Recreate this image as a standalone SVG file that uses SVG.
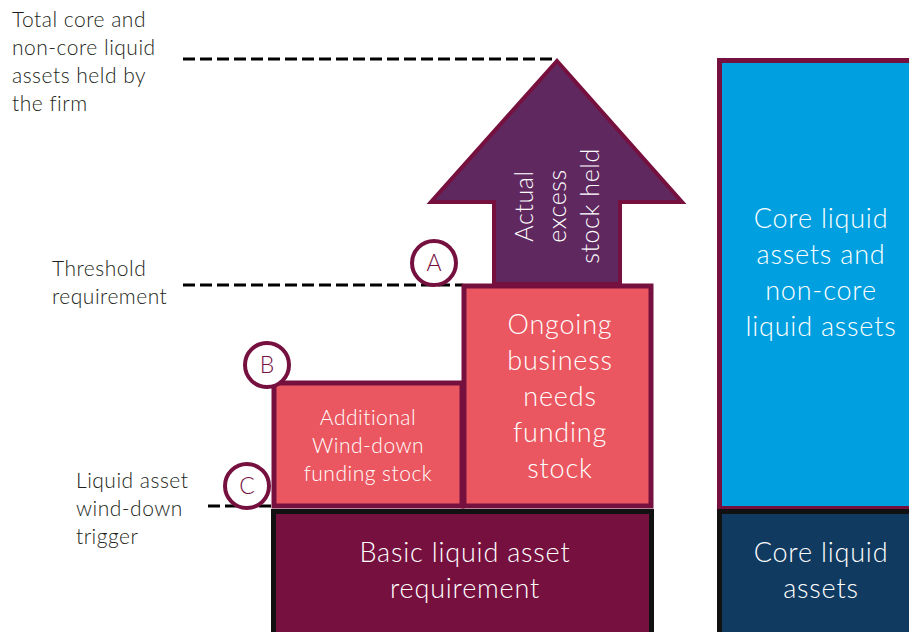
<svg xmlns="http://www.w3.org/2000/svg" width="909" height="632" viewBox="0 0 909 632">
<style>
.lbl{font-family:Lato,"Liberation Sans",sans-serif;font-weight:300;fill:#231F20;font-size:21px;letter-spacing:0.5px}
.wt{font-family:Lato,"Liberation Sans",sans-serif;font-weight:300;fill:#FFFFFF;text-anchor:middle}
.big{font-size:27px;letter-spacing:0.8px}
.mid{font-size:21px;letter-spacing:0.5px}
.dash{stroke:#000;stroke-width:3;stroke-dasharray:12 5;fill:none}
.circ{fill:#FFFFFF;stroke:#76103F;stroke-width:4}
.letter{font-family:Lato,"Liberation Sans",sans-serif;font-weight:300;fill:#76103F;font-size:23px;text-anchor:middle}
</style>
<rect width="909" height="632" fill="#FFFFFF"/>
<g id="connectors">
<line class="dash" x1="183" y1="59" x2="556" y2="59"/>
<line class="dash" x1="183" y1="285" x2="463" y2="285"/>
<line class="dash" x1="208" y1="506" x2="272" y2="506"/>
</g>
<g id="labels">
<text class="lbl" x="12"><tspan x="12" y="27">Total core and</tspan><tspan x="12" y="55">non-core liquid</tspan><tspan x="12" y="83">assets held by</tspan><tspan x="12" y="111">the firm</tspan></text>
<text class="lbl" x="52"><tspan x="52" y="276">Threshold</tspan><tspan x="52" y="304">requirement</tspan></text>
<text class="lbl" x="76"><tspan x="76" y="488">Liquid asset</tspan><tspan x="76" y="516">wind-down</tspan><tspan x="76" y="544">trigger</tspan></text>
</g>
<g id="basic">
<rect x="273.5" y="511.5" width="378" height="125" fill="#76103F" stroke="#111111" stroke-width="5"/>
<text class="wt big"><tspan x="465" y="562">Basic liquid asset</tspan><tspan x="465" y="598">requirement</tspan></text>
</g>
<g id="additional">
<rect x="274" y="383" width="188" height="123" fill="#EA5760" stroke="#76103F" stroke-width="5"/>
<text class="wt mid"><tspan x="368" y="425">Additional</tspan><tspan x="368" y="453">Wind-down</tspan><tspan x="368" y="481">funding stock</tspan></text>
</g>
<g id="ongoing">
<rect x="464" y="286" width="187" height="220" fill="#EA5760" stroke="#76103F" stroke-width="5"/>
<text class="wt big"><tspan x="560" y="334">Ongoing</tspan><tspan x="560" y="370">business</tspan><tspan x="560" y="406">needs</tspan><tspan x="560" y="442">funding</tspan><tspan x="560" y="478">stock</tspan></text>
</g>
<g id="arrow">
<polygon points="557,61 682,202 620,202 620,284 494,284 494,202 431,202" fill="#5F285F" stroke="#76103F" stroke-width="4" stroke-linejoin="miter"/>
<text class="wt" font-size="25" letter-spacing="0.6" transform="translate(557,206) rotate(-90)"><tspan x="0" y="-24">Actual</tspan><tspan x="0" y="9">excess</tspan><tspan x="0" y="42">stock held</tspan></text>
</g>
<g id="core-noncore">
<rect x="719.5" y="60.5" width="195" height="448" fill="#009FDF" stroke="#76103F" stroke-width="5"/>
<text class="wt big"><tspan x="821" y="228">Core liquid</tspan><tspan x="821" y="264">assets and</tspan><tspan x="821" y="300">non-core</tspan><tspan x="821" y="336">liquid assets</tspan></text>
</g>
<g id="core">
<rect x="719.5" y="511.5" width="195" height="125" fill="#113A60" stroke="#111111" stroke-width="5"/>
<text class="wt big"><tspan x="821" y="562">Core liquid</tspan><tspan x="821" y="598">assets</tspan></text>
</g>
<g id="marker-a">
<circle class="circ" cx="434" cy="263" r="22"/>
<text class="letter" x="434" y="271">A</text>
</g>
<g id="marker-b">
<circle class="circ" cx="267" cy="365" r="22"/>
<text class="letter" x="267" y="373">B</text>
</g>
<g id="marker-c">
<circle class="circ" cx="247" cy="486" r="22"/>
<text class="letter" x="247" y="494">C</text>
</g>
</svg>
